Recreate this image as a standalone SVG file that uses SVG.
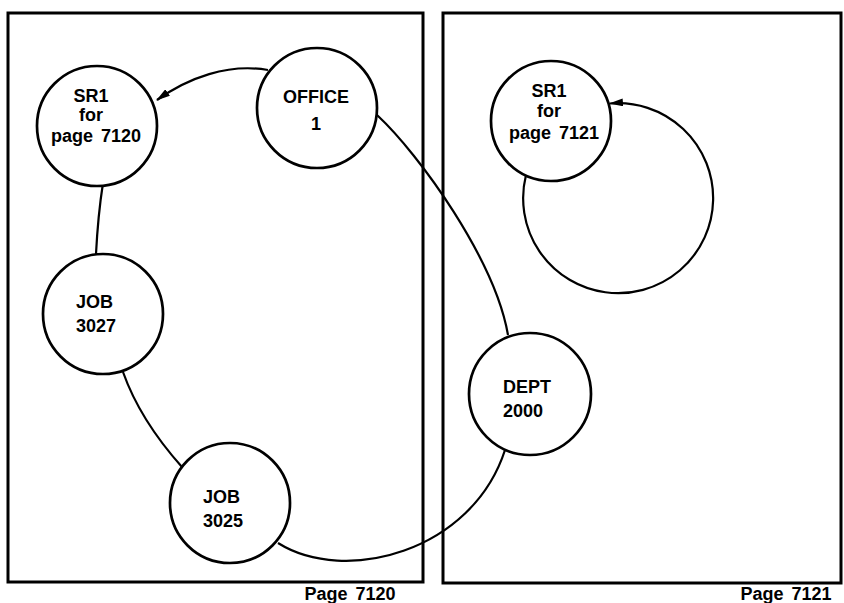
<svg xmlns="http://www.w3.org/2000/svg" width="844" height="603" viewBox="0 0 844 603">
  <style>
    .page { fill: none; stroke: #000; stroke-width: 3; }
    .node circle { fill: #fff; stroke: #000; stroke-width: 2.7; }
    .node text, .label { font-family: "Liberation Sans", Arial, sans-serif; font-size: 18px; font-weight: bold; fill: #000; }
    .c { text-anchor: middle; }
    .link { fill: none; stroke: #000; stroke-width: 2.2; }
  </style>
  <defs>
    <marker id="arrow" viewBox="0 0 14 8" refX="13" refY="4" markerWidth="14" markerHeight="8" markerUnits="userSpaceOnUse" orient="auto">
      <path d="M0,0 L14,4 L0,8 Z" fill="#000"/>
    </marker>
  </defs>

  <!-- page frames -->
  <g id="page-7120">
    <rect class="page" x="8" y="13" width="415" height="569"/>
    <text class="label" x="350" y="600" text-anchor="middle" word-spacing="3">Page 7120</text>
  </g>
  <g id="page-7121">
    <rect class="page" x="443" y="13" width="398" height="570"/>
    <text class="label" x="786" y="600" text-anchor="middle" word-spacing="3">Page 7121</text>
  </g>

  <!-- set connectors -->
  <g id="connectors">
    <path class="link" d="M268,70 C228,63 188,78 157,100" marker-end="url(#arrow)"/>
    <path class="link" d="M377,115 C420,155 495,260 508,335"/>
    <path class="link" d="M505,450 C472,552 345,585 278,543"/>
    <path class="link" d="M182,467 Q140,420 123,372"/>
    <path class="link" d="M96,254 Q98,215 103,183"/>
    <path class="link" d="M526,175 A95,95 0 1 0 610,103.5" marker-end="url(#arrow)"/>
  </g>

  <!-- record nodes -->
  <g id="sr1-7120" class="node">
    <circle cx="97" cy="126" r="60"/>
    <text class="c" x="91" y="102">SR1</text>
    <text class="c" x="91" y="121">for</text>
    <text class="c" x="96" y="142" word-spacing="3">page 7120</text>
  </g>
  <g id="office-1" class="node">
    <circle cx="317" cy="108" r="60"/>
    <text class="c" x="316" y="103">OFFICE</text>
    <text class="c" x="316" y="130">1</text>
  </g>
  <g id="job-3027" class="node">
    <circle cx="103" cy="314" r="60"/>
    <text x="76" y="308">JOB</text>
    <text x="76" y="332">3027</text>
  </g>
  <g id="job-3025" class="node">
    <circle cx="230" cy="503" r="60"/>
    <text x="203" y="503">JOB</text>
    <text x="203" y="527">3025</text>
  </g>
  <g id="dept-2000" class="node">
    <circle cx="530" cy="394" r="61"/>
    <text x="503" y="393">DEPT</text>
    <text x="503" y="417">2000</text>
  </g>
  <g id="sr1-7121" class="node">
    <circle cx="551" cy="121" r="60"/>
    <text class="c" x="549" y="97">SR1</text>
    <text class="c" x="549" y="117">for</text>
    <text class="c" x="554" y="139" word-spacing="3">page 7121</text>
  </g>
</svg>
